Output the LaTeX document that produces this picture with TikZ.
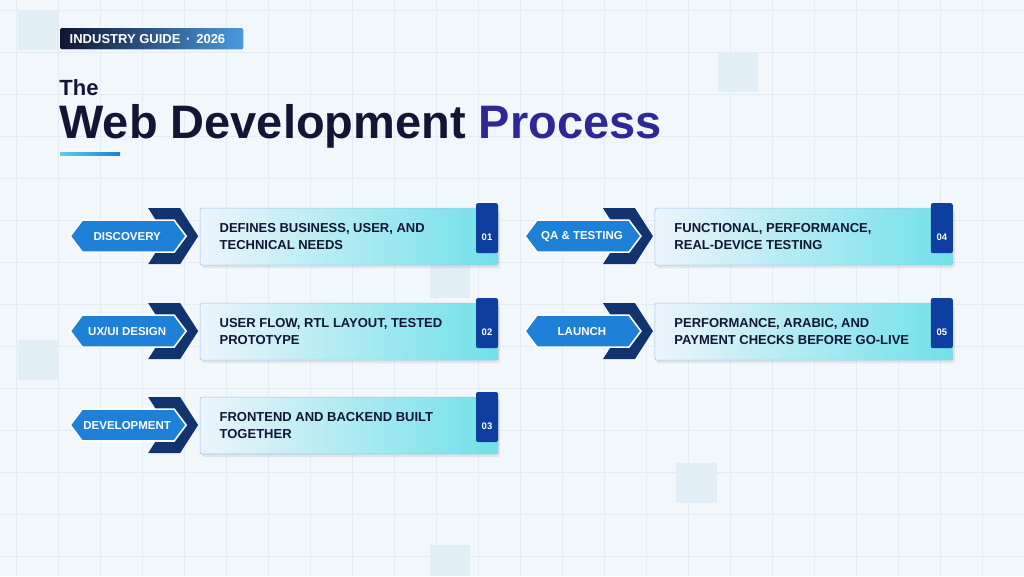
\documentclass[tikz,border=0pt]{standalone}
\usepackage{fontspec}
\setmainfont{Liberation Sans}
\usetikzlibrary{positioning,shadows}
\definecolor{mybg}{RGB}{241,247,251}
\definecolor{mygrid}{RGB}{226,236,243}
\definecolor{mytile}{RGB}{226,238,245}
\definecolor{mynavy}{RGB}{16,22,52}
\definecolor{myindigo}{RGB}{46,40,150}
\definecolor{mychevron}{RGB}{18,52,110}
\definecolor{myblue}{RGB}{30,128,214}
\definecolor{mytab}{RGB}{14,62,160}
\definecolor{mycyan}{RGB}{112,224,232}
\definecolor{mypale}{RGB}{236,244,252}
\begin{document}
\begin{tikzpicture}[
  x=1pt, y=-1pt,
  tile/.style={fill=mytile},
  chevron/.style={fill=mychevron},
  hexlabel/.style={
    fill=myblue,
    draw=white,
    line width=1.6pt
    },
  labeltext/.style={
    text=white,
    font=\bfseries\fontsize{11.5}{13}\selectfont
    },
  card/.style={
    draw=myblue!45,
    line width=0.6pt,
    rounded corners=2pt,
    left color=mypale,
    right color=mycyan,
    drop shadow={opacity=0.15, shadow xshift=2pt, shadow yshift=-3pt}
    },
  cardtext/.style={
    anchor=west,
    align=left,
    text=mynavy,
    font=\bfseries\fontsize{13}{17}\selectfont
    },
  tab/.style={
    fill=mytab,
    rounded corners=2pt
    },
  tabtext/.style={
    text=white,
    font=\bfseries\fontsize{9.5}{11}\selectfont
    }
]

% background and grid
\fill[mybg] (0,0) rectangle (1024,576);
\foreach \gx in {16,58,...,1024}
  \draw[mygrid, line width=0.5pt] (\gx,0) -- (\gx,576);
\foreach \gy in {10,52,...,576}
  \draw[mygrid, line width=0.5pt] (0,\gy) -- (1024,\gy);
\fill[tile] (18,10) rectangle (58,50);
\fill[tile] (718,52) rectangle (758,92);
\fill[tile] (18,340) rectangle (58,380);
\fill[tile] (430,262) rectangle (470,298);
\fill[tile] (676,463) rectangle (717,503);
\fill[tile] (430,545) rectangle (470,576);

% heading
\fill[left color=mynavy, right color=myblue!80, rounded corners=1.5pt] (60,28) rectangle (243,49);
\node[text=white, font=\bfseries\fontsize{13}{15}\selectfont, anchor=west] (badge) at (66,38.5) {INDUSTRY GUIDE \,·\, 2026};
\node[text=mynavy, font=\bfseries\fontsize{22}{24}\selectfont, anchor=base west, inner sep=0pt] (the) at (59,95) {The};
\node[font=\bfseries\fontsize{47}{50}\selectfont, anchor=base west, inner sep=0pt] (title) at (59,138)
  {\textcolor{mynavy}{Web Development} \textcolor{myindigo}{Process}};
\fill[left color=mycyan!80!myblue, right color=myblue] (60,152) rectangle (120,155);

% steps
\foreach \cx/\cy/\lab/\ta/\tb/\num in {
  0/236/DISCOVERY/{DEFINES BUSINESS, USER, AND}/{TECHNICAL NEEDS}/01,
  0/331/UX\slash UI DESIGN/{USER FLOW, RTL LAYOUT, TESTED}/{PROTOTYPE}/02,
  0/425/DEVELOPMENT/{FRONTEND AND BACKEND BUILT}/{TOGETHER}/03,
  455/236/QA \& TESTING/{FUNCTIONAL, PERFORMANCE,}/{REAL-DEVICE TESTING}/04,
  455/331/LAUNCH/{PERFORMANCE, ARABIC, AND}/{PAYMENT CHECKS BEFORE GO-LIVE}/05}
{
  \begin{scope}[shift={(\cx,\cy)}]
    \fill[chevron] (148,-28) -- (180,-28) -- (198,0) -- (180,28) -- (148,28) -- (166,0) -- cycle;
    \draw[hexlabel] (70,0) -- (82,-16) -- (174,-16) -- (186,0) -- (174,16) -- (82,16) -- cycle;
    \node[labeltext] (lab\num) at (127,0) {\lab};
    \draw[card] (200,-28) rectangle (498,29);
    \fill[tab] (476,-33) rectangle (498,17);
    \node[tabtext] (num\num) at (487,1) {\num};
    \node[cardtext] (txt\num) at (216,0) {\ta\\\tb};
  \end{scope}
}
\end{tikzpicture}
\end{document}
